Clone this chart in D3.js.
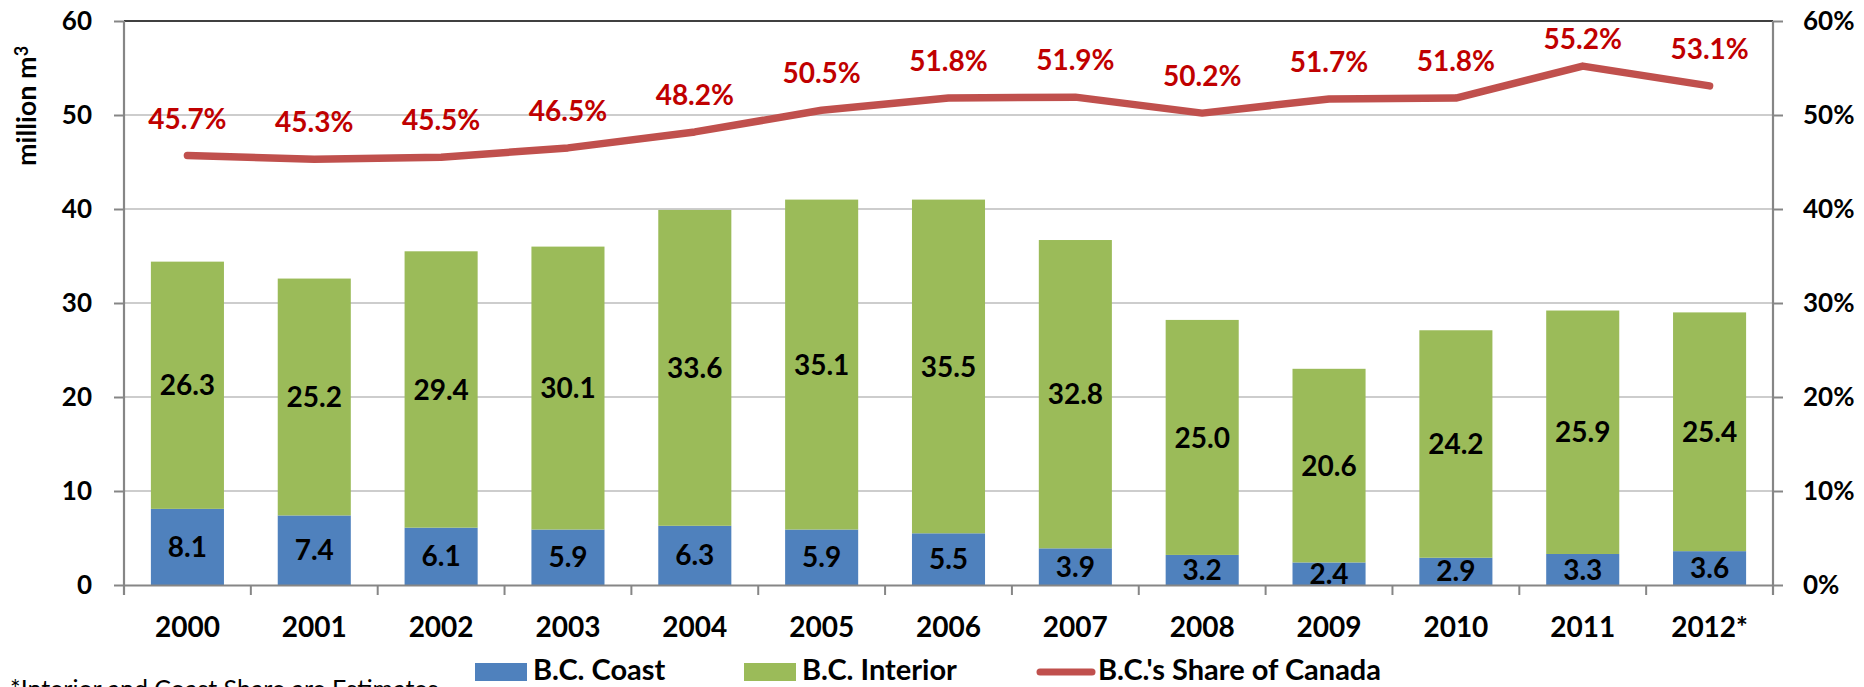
<!DOCTYPE html>
<html>
<head>
<meta charset="utf-8">
<script src="https://cdn.jsdelivr.net/npm/d3@7"></script>
<style>
  html, body { margin: 0; padding: 0; background: #fff; }
  svg { display: block; font-family: Lato, "Open Sans", sans-serif; }
</style>
</head>
<body>
<svg id="chart" width="1864" height="687"></svg>
<script>
// ── data ──────────────────────────────────────
const years    = ["2000","2001","2002","2003","2004","2005","2006","2007","2008","2009","2010","2011","2012*"];
const coast    = [8.1, 7.4, 6.1, 5.9, 6.3, 5.9, 5.5, 3.9, 3.2, 2.4, 2.9, 3.3, 3.6];
const interior = [26.3, 25.2, 29.4, 30.1, 33.6, 35.1, 35.5, 32.8, 25.0, 20.6, 24.2, 25.9, 25.4];
const share    = [45.7, 45.3, 45.5, 46.5, 48.2, 50.5, 51.8, 51.9, 50.2, 51.7, 51.8, 55.2, 53.1];
const volTicks = [0, 10, 20, 30, 40, 50, 60];
const pctTicks = [0, 0.1, 0.2, 0.3, 0.4, 0.5, 0.6];

// ── theme ─────────────────────────────────────
const C = {
    coast: "#4F81BD",
    interior: "#9BBB59",
    line: "#C0504D",
    lineLabel: "#C00000",
    grid: "#BDBDBD",
    axis: "#868686",
};

// ── layout ────────────────────────────────────
const W = 1864, H = 687;
const M = { top: 21, right: 91, bottom: 102, left: 124 };
const x0 = M.left, x1 = W - M.right, y0 = H - M.bottom, y1 = M.top;

const svg = d3.select("#chart");

const x = d3.scaleBand().domain(years).range([x0, x1])
    .paddingInner(0.424).paddingOuter(0.212);
const y = d3.scaleLinear().domain([0, 60]).range([y0, y1]);
const yPct = d3.scaleLinear().domain([0, 0.6]).range([y0, y1]);

// gridlines
svg.append("g")
    .selectAll("line")
    .data(volTicks.slice(1, -1))
    .join("line")
    .attr("x1", x0).attr("x2", x1)
    .attr("y1", d => y(d)).attr("y2", d => y(d))
    .attr("stroke", C.grid).attr("stroke-width", 1.6);

// top border
svg.append("line")
    .attr("x1", x0).attr("x2", x1).attr("y1", y(60)).attr("y2", y(60))
    .attr("stroke", "#000").attr("stroke-width", 1.5);

// ── stacked bars ──────────────────────────────
const rows = years.map((yr, i) => ({ year: yr, coast: coast[i], interior: interior[i] }));
const stack = d3.stack().keys(["coast", "interior"])(rows);

const barG = svg.append("g");
stack.forEach(layer => {
    const g = barG.append("g").attr("fill", C[layer.key]);
    g.selectAll("rect")
        .data(layer)
        .join("rect")
        .attr("x", d => x(d.data.year))
        .attr("width", x.bandwidth())
        .attr("y", d => y(d[1]))
        .attr("height", d => y(d[0]) - y(d[1]));
    g.selectAll("text")
        .data(layer)
        .join("text")
        .attr("x", d => x(d.data.year) + x.bandwidth() / 2)
        .attr("y", d => y((d[0] + d[1]) / 2))
        .attr("dy", "0.36em")
        .attr("text-anchor", "middle")
        .attr("fill", "#000")
        .style("font-size", "28px")
        .style("font-weight", 700)
        .text(d => d3.format(".1f")(d[1] - d[0]));
});

// ── axes ──────────────────────────────────────
const axL = svg.append("g")
    .attr("transform", `translate(${x0},0)`)
    .call(d3.axisLeft(y).tickValues(volTicks).tickSize(10).tickSizeOuter(0).tickPadding(22));

const axR = svg.append("g")
    .attr("transform", `translate(${x1},0)`)
    .call(d3.axisRight(yPct).tickValues(pctTicks).tickFormat(d3.format(".0%"))
        .tickSize(10).tickSizeOuter(0).tickPadding(20));

const axB = svg.append("g")
    .attr("transform", `translate(0,${y0})`)
    .call(d3.axisBottom(x).tickSize(0).tickSizeOuter(0).tickPadding(32));

// category separator ticks (between bars, like the original)
axB.append("g")
    .selectAll("line")
    .data(d3.range(years.length + 1))
    .join("line")
    .attr("x1", i => x0 + i * x.step()).attr("x2", i => x0 + i * x.step())
    .attr("y1", 0).attr("y2", 10)
    .attr("stroke", C.axis).attr("stroke-width", 2);

[axL, axR, axB].forEach(a => {
    a.selectAll(".domain").attr("stroke", C.axis).attr("stroke-width", 2.2);
    a.selectAll(".tick line").attr("stroke", C.axis).attr("stroke-width", 2);
    a.selectAll("text")
        .attr("fill", "#000")
        .style("font-family", "Lato, sans-serif")
        .style("font-weight", 700);
});
axL.selectAll("text").style("font-size", "26px");
axR.selectAll("text").style("font-size", "26px");
axB.selectAll("text").style("font-size", "28px");
// extend vertical axes down to the category ticks
axL.select(".domain").attr("d", `M0,${y1}V${y0 + 10}`);
axR.select(".domain").attr("d", `M0,${y1}V${y0 + 10}`);

// axis title
svg.append("text")
    .attr("transform", "translate(36,166) rotate(-90)")
    .attr("text-anchor", "start")
    .style("font-size", "27px")
    .style("font-weight", 700)
    .text("million m")
    .append("tspan")
    .attr("dy", "-0.45em")
    .style("font-size", "18px")
    .text("3");

// ── share line ────────────────────────────────
const cx = i => x(years[i]) + x.bandwidth() / 2;

svg.append("path")
    .datum(share)
    .attr("fill", "none")
    .attr("stroke", C.line)
    .attr("stroke-width", 7.5)
    .attr("stroke-linecap", "round")
    .attr("stroke-linejoin", "round")
    .attr("d", d3.line()
        .x((d, i) => cx(i))
        .y(d => yPct(d / 100)));

svg.append("g")
    .selectAll("text")
    .data(share)
    .join("text")
    .attr("x", (d, i) => cx(i))
    .attr("y", d => Math.max(yPct(d / 100) - 37, 39))
    .attr("dy", "0.36em")
    .attr("text-anchor", "middle")
    .attr("fill", C.lineLabel)
    .style("font-size", "28px")
    .style("font-weight", 700)
    .text(d => d.toFixed(1) + "%");

// ── legend ────────────────────────────────────
const legY = 672;
const leg = svg.append("g").style("font-size", "29px").style("font-weight", 700);

leg.append("rect").attr("x", 475).attr("y", legY - 9).attr("width", 52).attr("height", 18).attr("fill", C.coast);
leg.append("text").attr("x", 533).attr("y", legY + 8).text("B.C. Coast");

leg.append("rect").attr("x", 744).attr("y", legY - 9).attr("width", 52).attr("height", 18).attr("fill", C.interior);
leg.append("text").attr("x", 802).attr("y", legY + 8).text("B.C. Interior");

leg.append("line").attr("x1", 1040).attr("x2", 1092).attr("y1", legY).attr("y2", legY)
    .attr("stroke", C.line).attr("stroke-width", 7).attr("stroke-linecap", "round");
leg.append("text").attr("x", 1098).attr("y", legY + 8).text("B.C.'s Share of Canada");

// footnote (cut off by the bottom edge, as in the original)
svg.append("text")
    .attr("x", 10).attr("y", 698)
    .style("font-size", "25px")
    .text("*Interior and Coast Share are Estimates");
</script>
</body>
</html>
